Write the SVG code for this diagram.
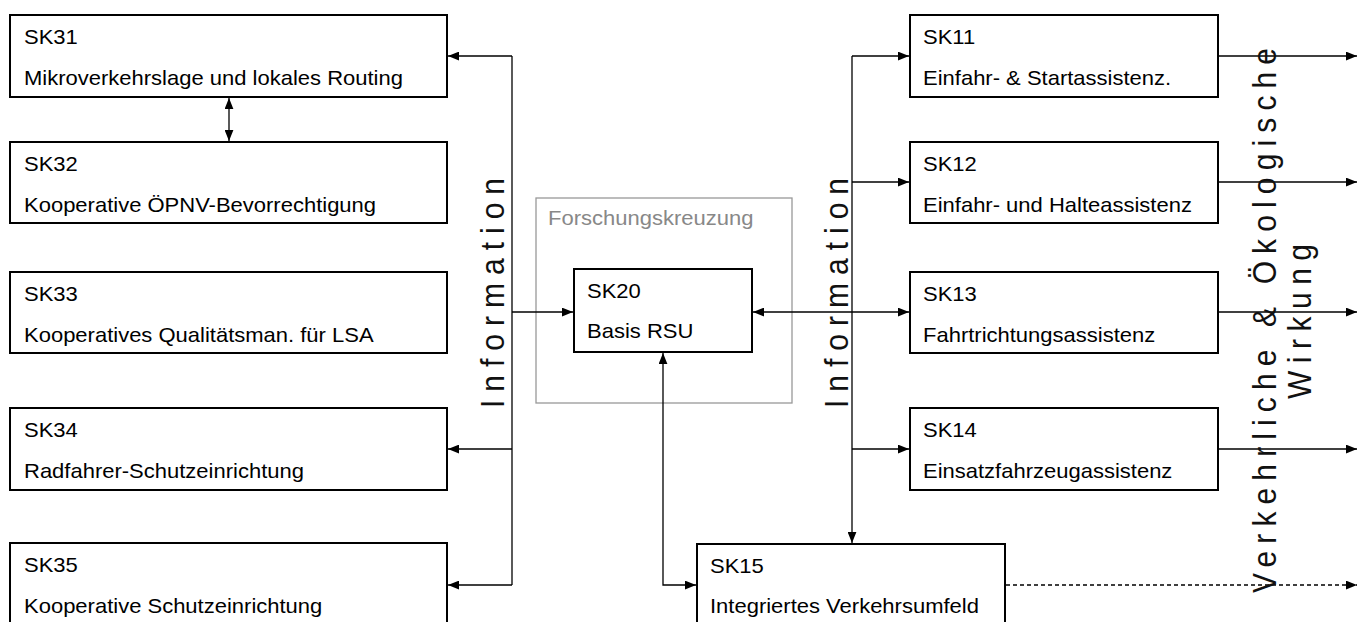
<svg xmlns="http://www.w3.org/2000/svg" width="1365" height="622" viewBox="0 0 1365 622">
<style>
.box{fill:#fff;stroke:#000;stroke-width:2}
.grp{fill:none;stroke:#999;stroke-width:1.3}
.t{font-family:"Liberation Sans",Arial,sans-serif;font-size:20px;fill:#000}
.tg{font-family:"Liberation Sans",Arial,sans-serif;font-size:20px;fill:#888}
.rt{font-family:"Liberation Sans",Arial,sans-serif;font-size:30px;fill:#111}
.c{fill:none;stroke:#000;stroke-width:1.3}
.cd{fill:none;stroke:#000;stroke-width:1.3;stroke-dasharray:4 3}
</style>
<defs>
<marker id="ah" viewBox="0 0 10 8" refX="10" refY="4" markerWidth="11" markerHeight="9" orient="auto-start-reverse" markerUnits="userSpaceOnUse">
<path d="M0,0 L10,4 L0,8 z" fill="#000"/>
</marker>
</defs>
<rect width="1365" height="622" fill="#fff"/>

<g id="forschungskreuzung">
<rect class="grp" x="536" y="198" width="256" height="205"/>
<text class="tg" transform="translate(548 225) scale(1.1 1)">Forschungskreuzung</text>
</g>

<g id="connectors">
<path class="c" d="M229,98 L229,141" marker-start="url(#ah)" marker-end="url(#ah)"/>
<path class="c" d="M512,56 L448,56" marker-end="url(#ah)"/>
<path class="c" d="M512,56 L512,585"/>
<path class="c" d="M512,449 L448,449" marker-end="url(#ah)"/>
<path class="c" d="M512,585 L448,585" marker-end="url(#ah)"/>
<path class="c" d="M512,312 L573,312" marker-end="url(#ah)"/>
<path class="c" d="M753,312 L909,312" marker-start="url(#ah)" marker-end="url(#ah)"/>
<path class="c" d="M852,56 L852,543" marker-end="url(#ah)"/>
<path class="c" d="M852,56 L909,56" marker-end="url(#ah)"/>
<path class="c" d="M852,182 L909,182" marker-end="url(#ah)"/>
<path class="c" d="M852,449 L909,449" marker-end="url(#ah)"/>
<path class="c" d="M663,353 L663,585 L696,585" marker-start="url(#ah)" marker-end="url(#ah)"/>
<path class="c" d="M1219,56 L1357,56" marker-end="url(#ah)"/>
<path class="c" d="M1219,182 L1357,182" marker-end="url(#ah)"/>
<path class="c" d="M1219,312 L1357,312" marker-end="url(#ah)"/>
<path class="c" d="M1219,449 L1357,449" marker-end="url(#ah)"/>
<path class="cd" d="M1006,585 L1357,585" marker-end="url(#ah)"/>
</g>

<g id="SK31">
<rect class="box" x="10" y="15" width="437" height="82"/>
<text class="t" transform="translate(24 44) scale(1.1 1)">SK31</text>
<text class="t" transform="translate(24 85) scale(1.1 1)">Mikroverkehrslage und lokales Routing</text>
</g>
<g id="SK32">
<rect class="box" x="10" y="142" width="437" height="81"/>
<text class="t" transform="translate(24 171) scale(1.1 1)">SK32</text>
<text class="t" transform="translate(24 212) scale(1.1 1)">Kooperative ÖPNV-Bevorrechtigung</text>
</g>
<g id="SK33">
<rect class="box" x="10" y="272" width="437" height="81"/>
<text class="t" transform="translate(24 301) scale(1.1 1)">SK33</text>
<text class="t" transform="translate(24 342) scale(1.1 1)">Kooperatives Qualitätsman. für LSA</text>
</g>
<g id="SK34">
<rect class="box" x="10" y="408" width="437" height="82"/>
<text class="t" transform="translate(24 437) scale(1.1 1)">SK34</text>
<text class="t" transform="translate(24 478) scale(1.1 1)">Radfahrer-Schutzeinrichtung</text>
</g>
<g id="SK35">
<rect class="box" x="10" y="543" width="437" height="90"/>
<text class="t" transform="translate(24 572) scale(1.1 1)">SK35</text>
<text class="t" transform="translate(24 613) scale(1.1 1)">Kooperative Schutzeinrichtung</text>
</g>

<g id="SK20">
<rect class="box" x="574" y="269" width="178" height="83"/>
<text class="t" transform="translate(587 298) scale(1.1 1)">SK20</text>
<text class="t" transform="translate(587 338) scale(1.1 1)">Basis RSU</text>
</g>

<g id="SK11">
<rect class="box" x="910" y="15" width="308" height="82"/>
<text class="t" transform="translate(923 44) scale(1.1 1)">SK11</text>
<text class="t" transform="translate(923 85) scale(1.1 1)">Einfahr- &amp; Startassistenz.</text>
</g>
<g id="SK12">
<rect class="box" x="910" y="142" width="308" height="81"/>
<text class="t" transform="translate(923 171) scale(1.1 1)">SK12</text>
<text class="t" transform="translate(923 212) scale(1.1 1)">Einfahr- und Halteassistenz</text>
</g>
<g id="SK13">
<rect class="box" x="910" y="272" width="308" height="81"/>
<text class="t" transform="translate(923 301) scale(1.1 1)">SK13</text>
<text class="t" transform="translate(923 342) scale(1.1 1)">Fahrtrichtungsassistenz</text>
</g>
<g id="SK14">
<rect class="box" x="910" y="408" width="308" height="82"/>
<text class="t" transform="translate(923 437) scale(1.1 1)">SK14</text>
<text class="t" transform="translate(923 478) scale(1.1 1)">Einsatzfahrzeugassistenz</text>
</g>
<g id="SK15">
<rect class="box" x="697" y="544" width="308" height="90"/>
<text class="t" transform="translate(710 573) scale(1.1 1)">SK15</text>
<text class="t" transform="translate(710 613) scale(1.1 1)">Integriertes Verkehrsumfeld</text>
</g>

<g id="labels">
<text class="rt" transform="translate(504 408) scale(1.1 1) rotate(-90)" textLength="230" lengthAdjust="spacing">Information</text>
<text class="rt" transform="translate(848 408) scale(1.1 1) rotate(-90)" textLength="230" lengthAdjust="spacing">Information</text>
<text class="rt" transform="translate(1276 593) scale(1.1 1) rotate(-90)" textLength="545" lengthAdjust="spacing">Verkehrliche &amp; Ökologische</text>
<text class="rt" transform="translate(1311 399) scale(1.1 1) rotate(-90)" textLength="155" lengthAdjust="spacing">Wirkung</text>
</g>
</svg>
